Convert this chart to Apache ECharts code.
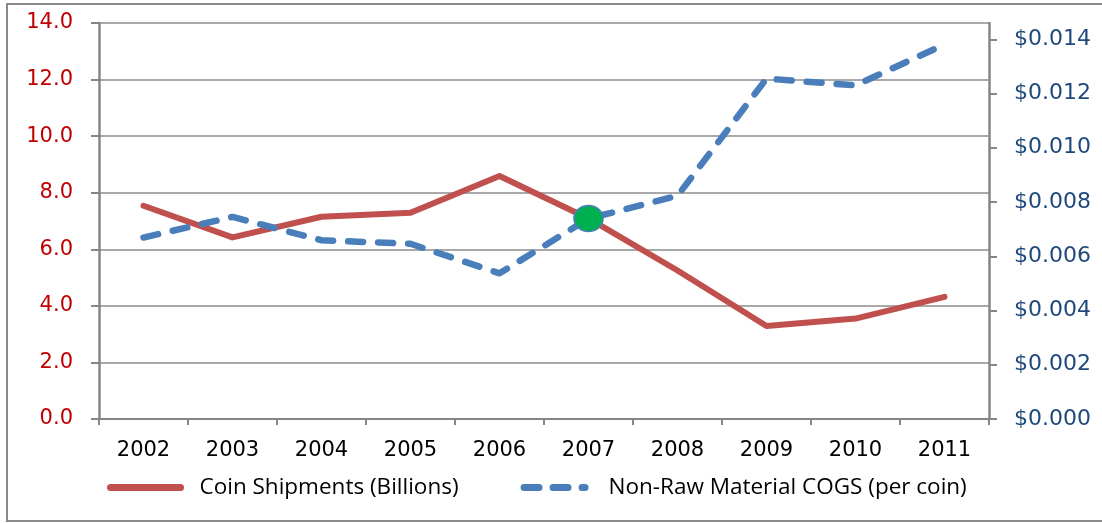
<!DOCTYPE html>
<html>
<head>
<meta charset="utf-8">
<script src="https://cdn.jsdelivr.net/npm/echarts@6/dist/echarts.min.js"></script>
<style>
  html, body { margin: 0; padding: 0; background: #fff; }
  #chart { width: 1102px; height: 523px; }
</style>
</head>
<body>
<div id="chart"></div>
<script>
// categories and values
const years = ["2002", "2003", "2004", "2005", "2006", "2007", "2008", "2009", "2010", "2011"];
const coinShipments = [7.54, 6.42, 7.15, 7.29, 8.59, 7.09, 5.25, 3.29, 3.55, 4.32];
const nonRawCogs = [0.00669, 0.00745, 0.00659, 0.00646, 0.00537, 0.00739, 0.00823, 0.01255, 0.0123, 0.01381];
const leftTicks = { min: 0, max: 14, interval: 2 };
const rightTicks = { min: 0, max: 0.0146, interval: 0.002 };
const highlightYear = "2007";

const AXIS_FONT = "DejaVu Sans";
const LEGEND_FONT = "Open Sans";
const chart = echarts.init(document.getElementById("chart"));

// legend icons: a solid pill and a dash-dash-dot row of pills
const solidIcon = "path://M3,0 L73,0 A3,3 0 0 1 73,7 L3,7 A3,3 0 0 1 3,0 Z";
const dashIcon =
  "path://M3.5,0 L18.5,0 A3.5,3.5 0 0 1 18.5,7 L3.5,7 A3.5,3.5 0 0 1 3.5,0 Z " +
  "M32.5,0 L47.5,0 A3.5,3.5 0 0 1 47.5,7 L32.5,7 A3.5,3.5 0 0 1 32.5,0 Z " +
  "M61.5,0 L64.5,0 A3.5,3.5 0 0 1 64.5,7 L61.5,7 A3.5,3.5 0 0 1 61.5,0 Z";

const option = {
  animation: false,
  graphic: [
    {
      type: "rect",
      shape: { x: 7, y: 4, width: 1100, height: 517 },
      style: { fill: "none", stroke: "#8a8a8a", lineWidth: 2 },
      silent: true,
    },
  ],
  grid: { left: 99, right: 113, top: 23, bottom: 104 },
  legend: {
    left: 102,
    top: 471,
    itemGap: 62,
    itemWidth: 78,
    itemHeight: 7,
    textStyle: { fontFamily: LEGEND_FONT, fontSize: 22.5, color: "#000", padding: [0, 0, 0, 10] },
    data: [
      { name: "Coin Shipments (Billions)", icon: solidIcon },
      { name: "Non-Raw Material COGS (per coin)", icon: dashIcon },
    ],
  },
  xAxis: {
    type: "category",
    data: years,
    boundaryGap: true,
    axisLine: { lineStyle: { color: "#868686", width: 2 } },
    axisTick: { show: true, length: 6, lineStyle: { color: "#868686", width: 2 } },
    axisLabel: { fontFamily: AXIS_FONT, fontSize: 21, color: "#000", margin: 21 },
  },
  yAxis: [
    {
      type: "value",
      min: leftTicks.min,
      max: leftTicks.max,
      interval: leftTicks.interval,
      axisLine: { show: true, lineStyle: { color: "#868686", width: 2.5 } },
      axisTick: { show: true, length: 8, lineStyle: { color: "#868686", width: 2 } },
      axisLabel: {
        fontFamily: AXIS_FONT,
        fontSize: 21,
        color: "#c00000",
        margin: 26,
        formatter: (v) => v.toFixed(1),
      },
      splitLine: { show: true, lineStyle: { color: "#8c8c8c", width: 1.5 } },
    },
    {
      type: "value",
      position: "right",
      min: rightTicks.min,
      max: rightTicks.max,
      interval: rightTicks.interval,
      axisLine: { show: true, lineStyle: { color: "#868686", width: 2.5 } },
      axisTick: { show: true, length: 8, lineStyle: { color: "#868686", width: 2 } },
      axisLabel: {
        fontFamily: AXIS_FONT,
        fontSize: 22,
        color: "#1f497d",
        margin: 25,
        showMaxLabel: false,
        formatter: (v) => "$" + v.toFixed(3),
      },
      splitLine: { show: false },
    },
  ],
  series: [
    {
      name: "Coin Shipments (Billions)",
      type: "line",
      yAxisIndex: 0,
      data: coinShipments,
      showSymbol: false,
      symbol: "none",
      itemStyle: { color: "#c0504d" },
      lineStyle: { color: "#c0504d", width: 6, cap: "round", join: "round" },
      z: 2,
    },
    {
      name: "Non-Raw Material COGS (per coin)",
      type: "line",
      yAxisIndex: 1,
      data: nonRawCogs,
      showSymbol: false,
      symbol: "none",
      itemStyle: { color: "#4a7ebb" },
      lineStyle: { color: "#4a7ebb", width: 6.5, type: [15, 15], cap: "round", join: "round" },
      markPoint: {
        symbol: "circle",
        symbolSize: [29, 26],
        silent: true,
        label: { show: false },
        itemStyle: { color: "#00b050", borderColor: "#4a7ebb", borderWidth: 1.5 },
        data: [{ coord: [highlightYear, nonRawCogs[years.indexOf(highlightYear)]] }],
      },
      z: 3,
    },
  ],
};

chart.setOption(option);
</script>
</body>
</html>
